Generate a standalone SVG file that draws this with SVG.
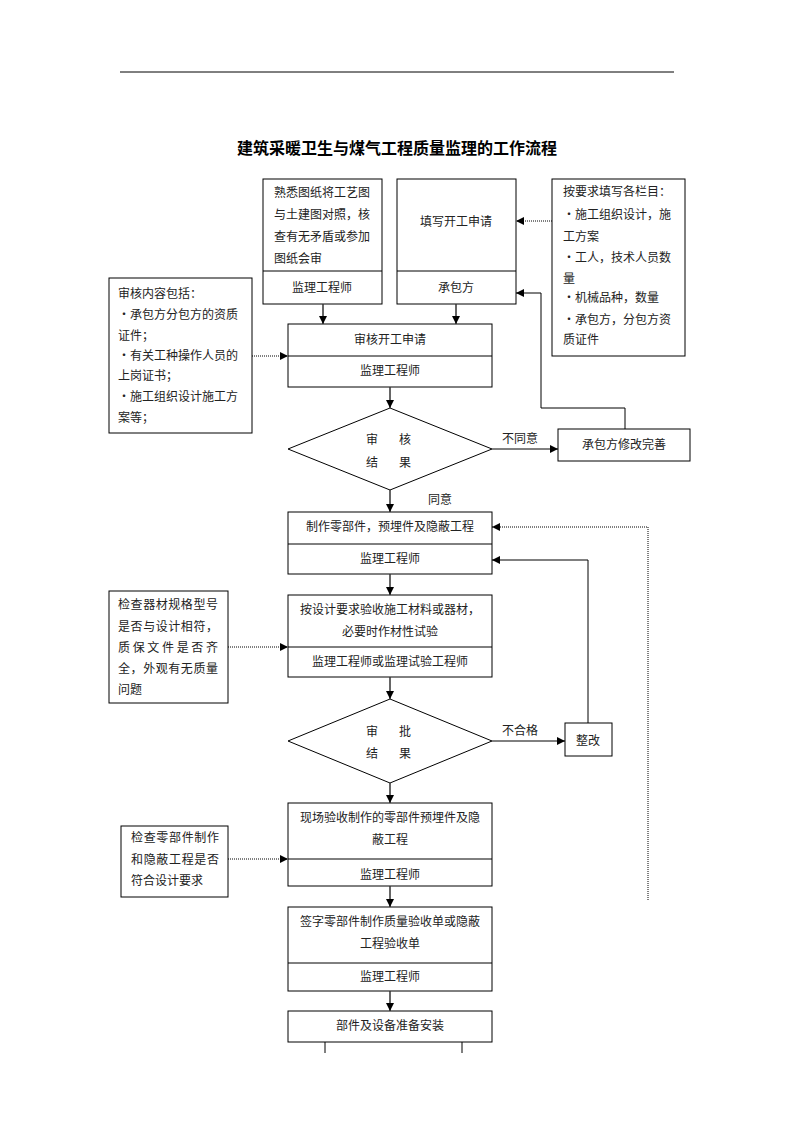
<svg xmlns="http://www.w3.org/2000/svg" width="793" height="1122" viewBox="0 0 793 1122">
<style>
text{font-family:"Noto Sans CJK SC","Liberation Serif",serif;font-size:12px;fill:#222}
.c{text-anchor:middle}
.t{font-size:16px;font-weight:bold;fill:#000}
.box{fill:#fff;stroke:#000;stroke-width:1}
.ln{fill:none;stroke:#333;stroke-width:1.5}
.thin{fill:none;stroke:#000;stroke-width:1}
.dot{fill:none;stroke:#000;stroke-width:1;stroke-dasharray:1 1}
</style>
<defs>
<marker id="ah" viewBox="0 0 10 10" refX="10" refY="5" markerWidth="8" markerHeight="8" markerUnits="userSpaceOnUse" orient="auto">
<path d="M0,0 L10,5 L0,10 z" fill="#000"/>
</marker>
</defs>
<line x1="120" y1="72" x2="674" y2="72" stroke="#000" stroke-width="1"/>
<text class="c t" x="397" y="154">建筑采暖卫生与煤气工程质量监理的工作流程</text>

<g id="nA">
<rect class="box" x="263" y="179" width="119" height="125"/>
<line class="thin" x1="263" y1="271" x2="382" y2="271"/>
<text x="274" y="197">熟悉图纸将工艺图</text>
<text x="274" y="219">与土建图对照，核</text>
<text x="274" y="241">查有无矛盾或参加</text>
<text x="274" y="263">图纸会审</text>
<text class="c" x="322" y="292">监理工程师</text>
</g>
<g id="nB">
<rect class="box" x="397" y="179" width="119" height="125"/>
<line class="thin" x1="397" y1="271" x2="516" y2="271"/>
<text class="c" x="456" y="226">填写开工申请</text>
<text class="c" x="456" y="292">承包方</text>
</g>
<g id="nC">
<rect class="box" x="552" y="179" width="133" height="177"/>
<text x="563" y="196">按要求填写各栏目：</text>
<text x="563" y="219">・施工组织设计，施</text>
<text x="563" y="241">工方案</text>
<text x="563" y="262">・工人，技术人员数</text>
<text x="563" y="283">量</text>
<text x="563" y="302">・机械品种，数量</text>
<text x="563" y="324">・承包方，分包方资</text>
<text x="563" y="344">质证件</text>
</g>
<g id="nD">
<rect class="box" x="109" y="278" width="143" height="155"/>
<text x="118" y="298">审核内容包括：</text>
<text x="118" y="319">・承包方分包方的资质</text>
<text x="118" y="340">证件；</text>
<text x="118" y="360">・有关工种操作人员的</text>
<text x="118" y="380">上岗证书；</text>
<text x="118" y="401">・施工组织设计施工方</text>
<text x="118" y="422">案等；</text>
</g>
<g id="nE">
<rect class="box" x="288" y="324" width="204" height="63"/>
<line class="thin" x1="288" y1="356" x2="492" y2="356"/>
<text class="c" x="390" y="344">审核开工申请</text>
<text class="c" x="390" y="375">监理工程师</text>
</g>
<g id="nDia1">
<polygon class="box" points="390,408 492,449 390,490 288,449"/>
<text class="c" x="372" y="444">审</text>
<text class="c" x="405" y="444">核</text>
<text class="c" x="372" y="467">结</text>
<text class="c" x="405" y="467">果</text>
</g>
<g id="nF">
<rect class="box" x="558" y="429" width="132" height="32"/>
<text class="c" x="624" y="449">承包方修改完善</text>
</g>
<g id="nG">
<rect class="box" x="288" y="512" width="204" height="62"/>
<line class="thin" x1="288" y1="544" x2="492" y2="544"/>
<text class="c" x="390" y="531">制作零部件，预埋件及隐蔽工程</text>
<text class="c" x="390" y="563">监理工程师</text>
</g>
<g id="nH">
<rect class="box" x="288" y="595" width="204" height="82"/>
<line class="thin" x1="288" y1="647" x2="492" y2="647"/>
<text class="c" x="390" y="614">按设计要求验收施工材料或器材，</text>
<text class="c" x="390" y="636">必要时作材性试验</text>
<text class="c" x="390" y="666">监理工程师或监理试验工程师</text>
</g>
<g id="nI">
<rect class="box" x="109" y="591" width="119" height="112"/>
<text x="118" y="609" textLength="100">检查器材规格型号</text>
<text x="118" y="631" textLength="100">是否与设计相符，</text>
<text x="118" y="652" textLength="100">质保文件是否齐</text>
<text x="118" y="673" textLength="100">全，外观有无质量</text>
<text x="118" y="694">问题</text>
</g>
<g id="nDia2">
<polygon class="box" points="390,699 492,741 390,783 288,741"/>
<text class="c" x="372" y="736">审</text>
<text class="c" x="405" y="736">批</text>
<text class="c" x="372" y="758">结</text>
<text class="c" x="405" y="758">果</text>
</g>
<g id="nZ">
<rect class="box" x="565" y="723" width="47" height="33"/>
<text class="c" x="588" y="745">整改</text>
</g>
<g id="nJ">
<rect class="box" x="288" y="803" width="204" height="83"/>
<line class="thin" x1="288" y1="859" x2="492" y2="859"/>
<text class="c" x="390" y="822">现场验收制作的零部件预埋件及隐</text>
<text class="c" x="390" y="844">蔽工程</text>
<text class="c" x="390" y="879">监理工程师</text>
</g>
<g id="nK">
<rect class="box" x="121" y="826" width="107" height="71"/>
<text x="131" y="842" textLength="88">检查零部件制作</text>
<text x="131" y="864" textLength="88">和隐蔽工程是否</text>
<text x="131" y="885">符合设计要求</text>
</g>
<g id="nL">
<rect class="box" x="288" y="907" width="204" height="84"/>
<line class="thin" x1="288" y1="963" x2="492" y2="963"/>
<text class="c" x="390" y="926">签字零部件制作质量验收单或隐蔽</text>
<text class="c" x="390" y="948">工程验收单</text>
<text class="c" x="390" y="981">监理工程师</text>
</g>
<g id="nM">
<rect class="box" x="288" y="1011" width="204" height="31"/>
<text class="c" x="390" y="1030">部件及设备准备安装</text>
</g>

<g id="connectors">
<line class="dot" x1="552" y1="221" x2="516" y2="221" marker-end="url(#ah)"/>
<line class="ln" x1="323" y1="304" x2="323" y2="324" marker-end="url(#ah)"/>
<line class="ln" x1="456" y1="304" x2="456" y2="324" marker-end="url(#ah)"/>
<line class="dot" x1="252" y1="356" x2="288" y2="356" marker-end="url(#ah)"/>
<line class="ln" x1="390" y1="387" x2="390" y2="408" marker-end="url(#ah)"/>
<line class="thin" x1="492" y1="449" x2="558" y2="449" marker-end="url(#ah)"/>
<text x="502" y="443">不同意</text>
<polyline class="thin" points="625,429 625,408 541,408 541,293 516,293" marker-end="url(#ah)"/>
<line class="ln" x1="390" y1="490" x2="390" y2="512" marker-end="url(#ah)"/>
<text x="428" y="504">同意</text>
<polyline class="dot" points="648,900 648,527 492,527" marker-end="url(#ah)"/>
<polyline class="thin" points="588,723 588,560 492,560" marker-end="url(#ah)"/>
<line class="ln" x1="390" y1="574" x2="390" y2="595" marker-end="url(#ah)"/>
<line class="dot" x1="228" y1="647" x2="288" y2="647" marker-end="url(#ah)"/>
<line class="ln" x1="390" y1="677" x2="390" y2="699" marker-end="url(#ah)"/>
<line class="thin" x1="492" y1="741" x2="565" y2="741" marker-end="url(#ah)"/>
<text x="502" y="735">不合格</text>
<line class="ln" x1="390" y1="783" x2="390" y2="803" marker-end="url(#ah)"/>
<line class="dot" x1="228" y1="859" x2="288" y2="859" marker-end="url(#ah)"/>
<line class="ln" x1="390" y1="886" x2="390" y2="907" marker-end="url(#ah)"/>
<line class="ln" x1="390" y1="991" x2="390" y2="1011" marker-end="url(#ah)"/>
<line class="thin" x1="325" y1="1042" x2="325" y2="1053"/>
<line class="thin" x1="462" y1="1042" x2="462" y2="1053"/>
</g>
</svg>
